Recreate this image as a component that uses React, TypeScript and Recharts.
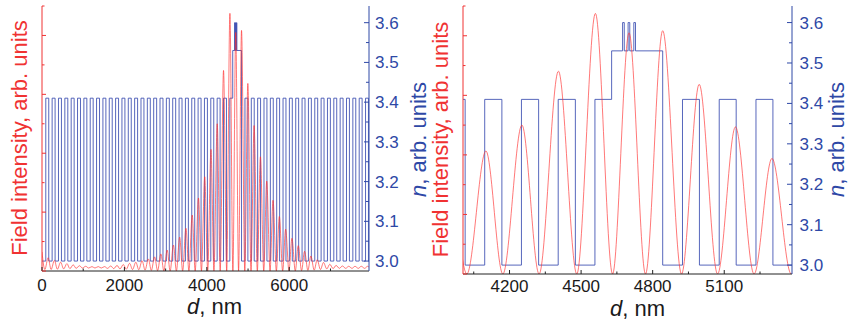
import React from 'react';
import { LineChart, Line, XAxis, YAxis } from 'recharts';

const FONT = '"Liberation Sans", Arial, Helvetica, sans-serif';
const RED = '#f03232';
const BLUE = '#2e48a6';
const LINE_BLUE = '#3a4cb0';
const LINE_RED = '#ff3030';

// Refractive index profile: interface positions (nm) and index value starting at each interface
const nEdges = [
  0,
  92, 164, 246, 318, 400, 472, 554, 626, 708, 780,
  862, 934, 1016, 1088, 1170, 1242, 1324, 1396, 1478, 1550,
  1632, 1704, 1786, 1858, 1940, 2012, 2094, 2166, 2248, 2320,
  2402, 2474, 2556, 2628, 2710, 2782, 2864, 2936, 3018, 3090,
  3172, 3244, 3326, 3398, 3480, 3552, 3634, 3706, 3788, 3860,
  3942, 4014, 4096, 4168, 4250, 4322, 4404, 4476,
  4558, 4628, 4674, 4681, 4697, 4704, 4721, 4728, 4842,
  4925, 4996, 5079, 5150, 5233, 5304, 5387, 5458, 5541, 5612,
  5695, 5766, 5849, 5920, 6003, 6074, 6157, 6228, 6311, 6382,
  6465, 6536, 6619, 6690, 6773, 6844, 6927, 6998, 7081, 7152,
  7235, 7306, 7389, 7460, 7543, 7614, 7697, 7768, 7851, 7922,
  7935,
];
const nValues = [
  3.0,
  3.41, 3.0, 3.41, 3.0, 3.41, 3.0, 3.41, 3.0, 3.41, 3.0,
  3.41, 3.0, 3.41, 3.0, 3.41, 3.0, 3.41, 3.0, 3.41, 3.0,
  3.41, 3.0, 3.41, 3.0, 3.41, 3.0, 3.41, 3.0, 3.41, 3.0,
  3.41, 3.0, 3.41, 3.0, 3.41, 3.0, 3.41, 3.0, 3.41, 3.0,
  3.41, 3.0, 3.41, 3.0, 3.41, 3.0, 3.41, 3.0, 3.41, 3.0,
  3.41, 3.0, 3.41, 3.0, 3.41, 3.0, 3.41, 3.0,
  3.41, 3.53, 3.6, 3.53, 3.6, 3.53, 3.6, 3.53, 3.0,
  3.41, 3.0, 3.41, 3.0, 3.41, 3.0, 3.41, 3.0, 3.41, 3.0,
  3.41, 3.0, 3.41, 3.0, 3.41, 3.0, 3.41, 3.0, 3.41, 3.0,
  3.41, 3.0, 3.41, 3.0, 3.41, 3.0, 3.41, 3.0, 3.41, 3.0,
  3.41, 3.0, 3.41, 3.0, 3.41, 3.0, 3.41, 3.0, 3.41, 3.0,
  3.0,
];

// Field intensity: positions (nm) of its maxima and minima, and the values there (arb. units)
const fieldD = [
  0, 69, 149, 221, 301, 373, 453, 525, 605, 677,
  757, 829, 909, 981, 1061, 1133, 1213, 1285, 1365, 1437,
  1517, 1589, 1669, 1741, 1821, 1893, 1973, 2045, 2125, 2197,
  2277, 2349, 2429, 2501, 2581, 2653, 2733, 2805, 2885, 2957,
  3037, 3109, 3189, 3261, 3341, 3413, 3493, 3565, 3645, 3717,
  3797, 3869, 3949, 4021, 4101, 4172, 4252, 4324, 4405, 4482,
  4560, 4632, 4701, 4770, 4842, 4921, 4995, 5072, 5147, 5225,
  5300, 5381, 5453, 5534, 5606, 5687, 5759, 5840, 5912, 5993,
  6065, 6146, 6218, 6299, 6371, 6452, 6524, 6605, 6677, 6758,
  6830, 6911, 6983, 7064, 7136, 7217, 7289, 7370, 7442, 7523,
  7595, 7676, 7748, 7829, 7901, 7935,
];
const fieldI = [
  0.65, 0.05, 0.45, 0.05, 0.36, 0.06, 0.3, 0.07, 0.25, 0.08,
  0.21, 0.09, 0.18, 0.1, 0.16, 0.1, 0.15, 0.1, 0.15, 0.1,
  0.15, 0.09, 0.17, 0.08, 0.19, 0.07, 0.22, 0.06, 0.26, 0.05,
  0.3, 0.04, 0.35, 0.03, 0.41, 0.02, 0.48, 0.01, 0.58, 0,
  0.71, 0, 0.88, 0, 1.15, 0, 1.45, 0, 1.9, 0,
  2.48, 0, 3.2, 0, 4.13, 0, 5.0, 0, 6.81, 0,
  8.75, 0, 8.1, 0, 8.17, 0, 6.37, 0, 4.94, 0,
  3.88, 0, 3.05, 0, 2.4, 0, 1.85, 0, 1.42, 0,
  1.11, 0, 0.86, 0.01, 0.67, 0.02, 0.51, 0.03, 0.38, 0.05,
  0.29, 0.07, 0.23, 0.08, 0.19, 0.09, 0.17, 0.09, 0.16, 0.09,
  0.16, 0.09, 0.16, 0.09, 0.16, 0.13,
];

// Axis ticks
const intensityTicks = [0, 1, 2, 3, 4, 5, 6, 7, 8, 9];
const intensityMajor = [0, 2, 4, 6, 8];
const nTicks = [3.0, 3.05, 3.1, 3.15, 3.2, 3.25, 3.3, 3.35, 3.4, 3.45, 3.5, 3.55, 3.6];
const nLabeled = [3.0, 3.1, 3.2, 3.3, 3.4, 3.5, 3.6];
const fullDTicks = [0, 1000, 2000, 3000, 4000, 5000, 6000, 7000];
const fullDLabeled = [0, 2000, 4000, 6000];
const zoomDTicks = [4050, 4200, 4350, 4500, 4650, 4800, 4950, 5100, 5250];
const zoomDLabeled = [4200, 4500, 4800, 5100];

const fieldData = fieldD.map((d, i) => ({ d, v: fieldI[i] }));
const indexData = nEdges.map((d, i) => ({ d, v: nValues[i] }));

const near = (arr: number[], v: number) => arr.some((a) => Math.abs(a - v) < 1e-6);

const makeBottomTick = (labeled: number[], labelDy: number) => (props: any) => {
  const { x, y, payload } = props;
  const major = near(labeled, payload.value);
  return (
    <g>
      <line x1={x} y1={y} x2={x} y2={y - (major ? 4 : 2.5)} stroke="#222" strokeWidth={1} />
      {major && (
        <text x={x} y={y + labelDy} textAnchor="middle" fontSize={17} fill="#1a1a1a" fontFamily={FONT}>
          {payload.value}
        </text>
      )}
    </g>
  );
};

const makeTopTick = (labeled: number[]) => (props: any) => {
  const { x, y, payload } = props;
  const major = near(labeled, payload.value);
  return <line x1={x} y1={y} x2={x} y2={y + (major ? 4 : 2.5)} stroke="#555" strokeWidth={1} />;
};

const LeftTick = (props: any) => {
  const { x, y, payload } = props;
  const major = near(intensityMajor, payload.value);
  return <line x1={x} y1={y} x2={x + (major ? 4 : 2.5)} y2={y} stroke={RED} strokeWidth={1} />;
};

const makeRightTick = (dx: number) => (props: any) => {
  const { x, y, payload } = props;
  const major = near(nLabeled, payload.value);
  return (
    <g>
      <line x1={x} y1={y} x2={x - (major ? 5 : 3)} y2={y} stroke={BLUE} strokeWidth={1} />
      {major && (
        <text x={x + dx} y={y + 6} textAnchor="start" fontSize={17} fill={BLUE} fontFamily={FONT}>
          {Number(payload.value).toFixed(1)}
        </text>
      )}
    </g>
  );
};

type PanelProps = {
  left: number;
  width: number;
  leftW: number;
  rightW: number;
  bottomH: number;
  xDomain: [number, number];
  nDomain: [number, number];
  xTicks: number[];
  xLabeled: number[];
  labelDy: number;
  rightDx: number;
};

function Panel(p: PanelProps) {
  return (
    <div style={{ position: 'absolute', left: p.left, top: 0 }}>
      <LineChart width={p.width} height={320} margin={{ top: 6, right: 0, bottom: 0, left: 0 }}>
        <XAxis
          xAxisId="b"
          orientation="bottom"
          type="number"
          dataKey="d"
          domain={p.xDomain}
          allowDataOverflow
          ticks={p.xTicks}
          interval={0}
          tickSize={0}
          tickMargin={0}
          tickLine={false}
          tick={makeBottomTick(p.xLabeled, p.labelDy)}
          height={p.bottomH}
          stroke="#222"
        />
        <XAxis
          xAxisId="t"
          orientation="top"
          type="number"
          dataKey="d"
          domain={p.xDomain}
          allowDataOverflow
          ticks={p.xTicks}
          interval={0}
          tickSize={0}
          tickMargin={0}
          tickLine={false}
          tick={makeTopTick(p.xLabeled)}
          height={0}
          stroke="#555"
        />
        <YAxis
          yAxisId="I"
          orientation="left"
          type="number"
          domain={[0, 9]}
          allowDataOverflow
          ticks={intensityTicks}
          interval={0}
          tickSize={0}
          tickMargin={0}
          tickLine={false}
          tick={LeftTick}
          width={p.leftW}
          stroke={RED}
        />
        <YAxis
          yAxisId="n"
          orientation="right"
          type="number"
          domain={p.nDomain}
          allowDataOverflow
          ticks={nTicks}
          interval={0}
          tickSize={0}
          tickMargin={0}
          tickLine={false}
          tick={makeRightTick(p.rightDx)}
          width={p.rightW}
          stroke={BLUE}
        />
        <Line
          xAxisId="b"
          yAxisId="n"
          data={indexData}
          dataKey="v"
          type="stepAfter"
          stroke={LINE_BLUE}
          strokeOpacity={0.85}
          strokeWidth={1}
          dot={false}
          activeDot={false}
          isAnimationActive={false}
        />
        <Line
          xAxisId="b"
          yAxisId="I"
          data={fieldData}
          dataKey="v"
          type="monotone"
          stroke={LINE_RED}
          strokeOpacity={0.65}
          strokeWidth={1}
          dot={false}
          activeDot={false}
          isAnimationActive={false}
        />
      </LineChart>
    </div>
  );
}

function VLabel({ x, y, color, children }: { x: number; y: number; color: string; children: React.ReactNode }) {
  return (
    <text
      transform={`translate(${x},${y}) rotate(-90)`}
      textAnchor="middle"
      fontSize={22}
      fill={color}
      fontFamily={FONT}
    >
      {children}
    </text>
  );
}

export default function App() {
  return (
    <div style={{ position: 'absolute', left: 0, top: 0, width: 849, height: 320, background: '#fff', overflow: 'hidden', fontFamily: FONT }}>
      <Panel
        left={0}
        width={420}
        leftW={42}
        rightW={51}
        bottomH={49}
        xDomain={[0, 7935]}
        nDomain={[2.975, 3.642]}
        xTicks={fullDTicks}
        xLabeled={fullDLabeled}
        labelDy={19.5}
        rightDx={6}
      />
      <Panel
        left={420}
        width={429}
        leftW={43}
        rightW={57}
        bottomH={46}
        xDomain={[4005, 5384]}
        nDomain={[2.978, 3.641]}
        xTicks={zoomDTicks}
        xLabeled={zoomDLabeled}
        labelDy={18}
        rightDx={7.5}
      />
      <svg width={849} height={320} style={{ position: 'absolute', left: 0, top: 0, pointerEvents: 'none' }}>
        <VLabel x={27} y={138} color={RED}>Field intensity, arb. units</VLabel>
        <VLabel x={425.5} y={139.5} color={BLUE}>
          <tspan fontStyle="italic">n</tspan>, arb. units
        </VLabel>
        <VLabel x={448} y={139.5} color={RED}>Field intensity, arb. units</VLabel>
        <VLabel x={844} y={139.5} color={BLUE}>
          <tspan fontStyle="italic">n</tspan>, arb. units
        </VLabel>
        <text x={214.5} y={314} textAnchor="middle" fontSize={22} fill="#1a1a1a" fontFamily={FONT}>
          <tspan fontStyle="italic">d</tspan>, nm
        </text>
        <text x={637.5} y={315.5} textAnchor="middle" fontSize={22} fill="#1a1a1a" fontFamily={FONT}>
          <tspan fontStyle="italic">d</tspan>, nm
        </text>
      </svg>
    </div>
  );
}
